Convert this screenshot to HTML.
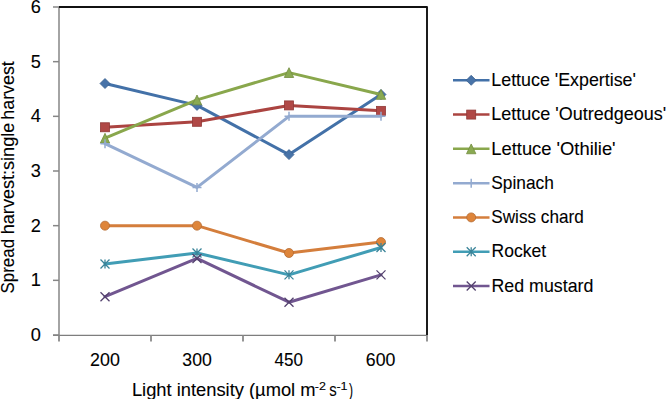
<!DOCTYPE html>
<html><head><meta charset="utf-8"><style>
html,body{margin:0;padding:0;background:#fff;}
body{width:666px;height:399px;overflow:hidden;}
svg{display:block;}
text{font-family:"Liberation Sans",sans-serif;}
</style></head><body>
<svg width="666" height="399" viewBox="0 0 666 399">
<rect width="666" height="399" fill="#fff"/>
<path d="M59.0 7.0V335.0" stroke="#A4A4A4" stroke-width="2" fill="none"/>
<path d="M53.0 335.4H427.0" stroke="#7E7E7E" stroke-width="1.3" fill="none"/>
<path d="M53.0 335.0H59.0" stroke="#868686" stroke-width="1.5"/>
<path d="M53.0 280.3333333333333H59.0" stroke="#868686" stroke-width="1.5"/>
<path d="M53.0 225.66666666666669H59.0" stroke="#868686" stroke-width="1.5"/>
<path d="M53.0 171.0H59.0" stroke="#868686" stroke-width="1.5"/>
<path d="M53.0 116.33333333333334H59.0" stroke="#868686" stroke-width="1.5"/>
<path d="M53.0 61.666666666666686H59.0" stroke="#868686" stroke-width="1.5"/>
<path d="M53.0 7.0H59.0" stroke="#868686" stroke-width="1.5"/>
<path d="M59.0 335.0V341.5" stroke="#868686" stroke-width="1.75"/>
<path d="M151.0 335.0V341.5" stroke="#868686" stroke-width="1.75"/>
<path d="M243.0 335.0V341.5" stroke="#868686" stroke-width="1.75"/>
<path d="M335.0 335.0V341.5" stroke="#868686" stroke-width="1.75"/>
<path d="M427.0 335.0V341.5" stroke="#868686" stroke-width="1.75"/>
<path d="M59.0 7.0H427.0V335.0" stroke="#111" stroke-width="1.9" fill="none" stroke-linejoin="round"/>
<polyline points="105.0,83.53 197.0,105.40 289.0,154.60 381.0,94.47" fill="none" stroke="#4371A8" stroke-width="3" stroke-linejoin="round" stroke-linecap="round"/>
<path d="M105.0 78.53L110.0 83.53L105.0 88.53L100.0 83.53Z" fill="#4873A8" stroke="#38608E" stroke-width="0.8"/>
<path d="M197.0 100.4L202.0 105.4L197.0 110.4L192.0 105.4Z" fill="#4873A8" stroke="#38608E" stroke-width="0.8"/>
<path d="M289.0 149.6L294.0 154.6L289.0 159.6L284.0 154.6Z" fill="#4873A8" stroke="#38608E" stroke-width="0.8"/>
<path d="M381.0 89.47L386.0 94.47L381.0 99.47L376.0 94.47Z" fill="#4873A8" stroke="#38608E" stroke-width="0.8"/>
<polyline points="105.0,127.27 197.0,121.80 289.0,105.40 381.0,110.87" fill="none" stroke="#AB4441" stroke-width="3" stroke-linejoin="round" stroke-linecap="round"/>
<rect x="100.5" y="122.77" width="9.0" height="9.0" fill="#B04846" stroke="#913937" stroke-width="0.8"/>
<rect x="192.5" y="117.3" width="9.0" height="9.0" fill="#B04846" stroke="#913937" stroke-width="0.8"/>
<rect x="284.5" y="100.9" width="9.0" height="9.0" fill="#B04846" stroke="#913937" stroke-width="0.8"/>
<rect x="376.5" y="106.37" width="9.0" height="9.0" fill="#B04846" stroke="#913937" stroke-width="0.8"/>
<polyline points="105.0,138.20 197.0,99.93 289.0,72.60 381.0,94.47" fill="none" stroke="#89A74C" stroke-width="3" stroke-linejoin="round" stroke-linecap="round"/>
<path d="M105.0 133.29999999999998L109.7 143.1L100.3 143.1Z" fill="#8AAA52" stroke="#748D40" stroke-width="0.8"/>
<path d="M197.0 95.03L201.7 104.83000000000001L192.3 104.83000000000001Z" fill="#8AAA52" stroke="#748D40" stroke-width="0.8"/>
<path d="M289.0 67.69999999999999L293.7 77.5L284.3 77.5Z" fill="#8AAA52" stroke="#748D40" stroke-width="0.8"/>
<path d="M381.0 89.57L385.7 99.37L376.3 99.37Z" fill="#8AAA52" stroke="#748D40" stroke-width="0.8"/>
<polyline points="105.0,143.67 197.0,187.40 289.0,116.33 381.0,116.33" fill="none" stroke="#93AAD0" stroke-width="3" stroke-linejoin="round" stroke-linecap="round"/>
<path d="M100.5 143.67H109.5M105.0 139.17V148.17" stroke="#93AAD0" stroke-width="1.5" fill="none"/>
<path d="M192.5 187.4H201.5M197.0 182.9V191.9" stroke="#93AAD0" stroke-width="1.5" fill="none"/>
<path d="M284.5 116.33H293.5M289.0 111.83V120.83" stroke="#93AAD0" stroke-width="1.5" fill="none"/>
<path d="M376.5 116.33H385.5M381.0 111.83V120.83" stroke="#93AAD0" stroke-width="1.5" fill="none"/>
<polyline points="105.0,225.67 197.0,225.67 289.0,253.00 381.0,242.07" fill="none" stroke="#D47E3C" stroke-width="3" stroke-linejoin="round" stroke-linecap="round"/>
<circle cx="105.0" cy="225.67" r="4.5" fill="#DE853A" stroke="#B46B33" stroke-width="0.8"/>
<circle cx="197.0" cy="225.67" r="4.5" fill="#DE853A" stroke="#B46B33" stroke-width="0.8"/>
<circle cx="289.0" cy="253.0" r="4.5" fill="#DE853A" stroke="#B46B33" stroke-width="0.8"/>
<circle cx="381.0" cy="242.07" r="4.5" fill="#DE853A" stroke="#B46B33" stroke-width="0.8"/>
<polyline points="105.0,263.93 197.0,253.00 289.0,274.87 381.0,247.53" fill="none" stroke="#419DB5" stroke-width="3" stroke-linejoin="round" stroke-linecap="round"/>
<path d="M100.5 259.43L109.5 268.43M100.5 268.43L109.5 259.43M105.0 259.43V268.43" stroke="#3A8499" stroke-width="1.3" fill="none"/>
<path d="M192.5 248.5L201.5 257.5M192.5 257.5L201.5 248.5M197.0 248.5V257.5" stroke="#3A8499" stroke-width="1.3" fill="none"/>
<path d="M284.5 270.37L293.5 279.37M284.5 279.37L293.5 270.37M289.0 270.37V279.37" stroke="#3A8499" stroke-width="1.3" fill="none"/>
<path d="M376.5 243.03L385.5 252.03M376.5 252.03L385.5 243.03M381.0 243.03V252.03" stroke="#3A8499" stroke-width="1.3" fill="none"/>
<polyline points="105.0,296.73 197.0,258.47 289.0,302.20 381.0,274.87" fill="none" stroke="#715690" stroke-width="3" stroke-linejoin="round" stroke-linecap="round"/>
<path d="M100.5 292.23L109.5 301.23M100.5 301.23L109.5 292.23" stroke="#54426E" stroke-width="1.3" fill="none"/>
<path d="M192.5 253.97000000000003L201.5 262.97M192.5 262.97L201.5 253.97000000000003" stroke="#54426E" stroke-width="1.3" fill="none"/>
<path d="M284.5 297.7L293.5 306.7M284.5 306.7L293.5 297.7" stroke="#54426E" stroke-width="1.3" fill="none"/>
<path d="M376.5 270.37L385.5 279.37M376.5 279.37L385.5 270.37" stroke="#54426E" stroke-width="1.3" fill="none"/>
<path d="M453 80.30H489.5" stroke="#4371A8" stroke-width="2.5"/>
<path d="M471.2 75.3L476.2 80.3L471.2 85.3L466.2 80.3Z" fill="#4873A8" stroke="#38608E" stroke-width="0.8"/>
<path d="M453 114.58H489.5" stroke="#AB4441" stroke-width="2.5"/>
<rect x="466.7" y="110.08" width="9.0" height="9.0" fill="#B04846" stroke="#913937" stroke-width="0.8"/>
<path d="M453 148.86H489.5" stroke="#89A74C" stroke-width="2.5"/>
<path d="M471.2 143.96L475.9 153.76000000000002L466.5 153.76000000000002Z" fill="#8AAA52" stroke="#748D40" stroke-width="0.8"/>
<path d="M453 183.14H489.5" stroke="#93AAD0" stroke-width="2.5"/>
<path d="M466.7 183.14H475.7M471.2 178.64V187.64" stroke="#93AAD0" stroke-width="1.5" fill="none"/>
<path d="M453 217.42H489.5" stroke="#D47E3C" stroke-width="2.5"/>
<circle cx="471.2" cy="217.42" r="4.5" fill="#DE853A" stroke="#B46B33" stroke-width="0.8"/>
<path d="M453 251.70H489.5" stroke="#419DB5" stroke-width="2.5"/>
<path d="M466.7 247.2L475.7 256.2M466.7 256.2L475.7 247.2M471.2 247.2V256.2" stroke="#3A8499" stroke-width="1.3" fill="none"/>
<path d="M453 285.98H489.5" stroke="#715690" stroke-width="2.5"/>
<path d="M466.7 281.48L475.7 290.48M466.7 290.48L475.7 281.48" stroke="#54426E" stroke-width="1.3" fill="none"/>
<g fill="#000" stroke="#000" stroke-width="0.1">
<text x="40.8" y="341.10" text-anchor="end" font-size="18.2">0</text>
<text x="40.8" y="286.43" text-anchor="end" font-size="18.2">1</text>
<text x="40.8" y="231.77" text-anchor="end" font-size="18.2">2</text>
<text x="40.8" y="177.10" text-anchor="end" font-size="18.2">3</text>
<text x="40.8" y="122.43" text-anchor="end" font-size="18.2">4</text>
<text x="40.8" y="67.77" text-anchor="end" font-size="18.2">5</text>
<text x="40.8" y="13.10" text-anchor="end" font-size="18.2">6</text>
<text x="90.10" y="366.00" font-size="18.2" textLength="29.80" lengthAdjust="spacingAndGlyphs" >200</text>
<text x="182.33" y="366.00" font-size="18.2" textLength="29.46" lengthAdjust="spacingAndGlyphs" >300</text>
<text x="274.61" y="366.00" font-size="18.2" textLength="28.46" lengthAdjust="spacingAndGlyphs" >450</text>
<text x="365.80" y="366.00" font-size="18.2" textLength="29.59" lengthAdjust="spacingAndGlyphs" >600</text>
<text x="131.90" y="395.90" font-size="18.2" textLength="183.61" lengthAdjust="spacingAndGlyphs" >Light intensity (µmol m</text>
<text x="314.75" y="390.40" font-size="11.0" textLength="11.08" lengthAdjust="spacingAndGlyphs" >-2</text>
<text x="329.19" y="395.90" font-size="18.2" textLength="7.45" lengthAdjust="spacingAndGlyphs" >s</text>
<text x="336.44" y="390.40" font-size="11.0" textLength="11.17" lengthAdjust="spacingAndGlyphs" >-1</text>
<text x="348.93" y="395.90" font-size="18.2" textLength="4.02" lengthAdjust="spacingAndGlyphs" >)</text>
<text transform="translate(14.0 292.7) rotate(-90)" x="-0.77" y="0" font-size="18.2" textLength="54.56" lengthAdjust="spacingAndGlyphs">Spread</text>
<text transform="translate(14.0 233.0) rotate(-90)" x="-1.25" y="0" font-size="18.2" textLength="111.56" lengthAdjust="spacingAndGlyphs">harvest:single</text>
<text transform="translate(14.0 118.5) rotate(-90)" x="-1.24" y="0" font-size="18.2" textLength="58.57" lengthAdjust="spacingAndGlyphs">harvest</text>
<text x="491.34" y="86.00" font-size="18.2" textLength="144.56" lengthAdjust="spacingAndGlyphs" >Lettuce &#39;Expertise&#39;</text>
<text x="491.32" y="120.28" font-size="18.2" textLength="174.88" lengthAdjust="spacingAndGlyphs" >Lettuce &#39;Outredgeous&#39;</text>
<text x="491.29" y="154.56" font-size="18.2" textLength="124.33" lengthAdjust="spacingAndGlyphs" >Lettuce &#39;Othilie&#39;</text>
<text x="491.31" y="188.84" font-size="18.2" textLength="62.61" lengthAdjust="spacingAndGlyphs" >Spinach</text>
<text x="491.32" y="223.12" font-size="18.2" textLength="92.38" lengthAdjust="spacingAndGlyphs" >Swiss chard</text>
<text x="491.56" y="257.40" font-size="18.2" textLength="54.46" lengthAdjust="spacingAndGlyphs" >Rocket</text>
<text x="491.54" y="291.68" font-size="18.2" textLength="101.81" lengthAdjust="spacingAndGlyphs" >Red mustard</text>
</g>
</svg>
</body></html>
